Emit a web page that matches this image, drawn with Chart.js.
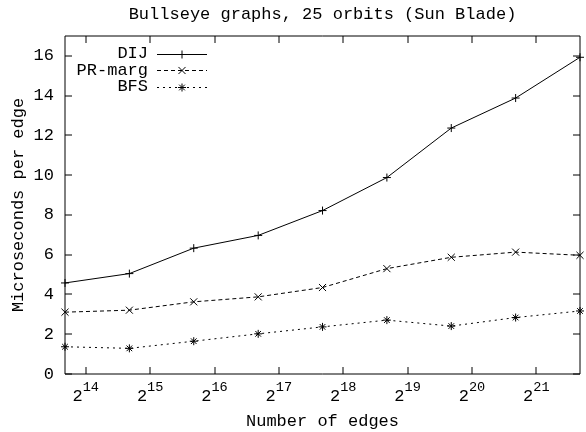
<!DOCTYPE html>
<html>
<head>
<meta charset="utf-8">
<title>Bullseye graphs, 25 orbits (Sun Blade)</title>
<script src="https://cdn.jsdelivr.net/npm/chart.js@4.4.0/dist/chart.umd.min.js"></script>
<style>
  html, body { margin: 0; padding: 0; background: #fff; }
  canvas { display: block; }
</style>
</head>
<body>
<canvas id="chart" width="586" height="432"></canvas>
<script>
// Textos
const chartTitle = 'Bullseye graphs, 25 orbits (Sun Blade)';
const xAxisTitle = 'Number of edges';
const yAxisTitle = 'Microseconds per edge';

// Datos
const edges = [13100, 26200, 52400, 104900, 209700, 419400, 838900, 1677700, 3355400];
const dij = [4.58, 5.05, 6.33, 6.97, 8.22, 9.88, 12.37, 13.88, 15.93];
const prMarg = [3.11, 3.21, 3.63, 3.88, 4.35, 5.30, 5.87, 6.13, 5.97];
const bfs = [1.37, 1.29, 1.65, 2.02, 2.37, 2.71, 2.41, 2.84, 3.17];

// Marcas de los ejes
const xTickExponents = [14, 15, 16, 17, 18, 19, 20, 21];
const yTicks = [0, 2, 4, 6, 8, 10, 12, 14, 16];

const FONT = '"Liberation Mono", "Courier New", monospace';
const TICK_LEN = 7;

// Marco estilo gnuplot, marcas hacia dentro y etiquetas
const gnuplotFrame = {
  id: 'gnuplotFrame',
  beforeDatasetsDraw(chart) {
    const { ctx, chartArea: a, scales } = chart;
    const left = Math.round(a.left);
    const right = Math.round(a.right);
    const top = Math.round(a.top);
    const bottom = Math.round(a.bottom);

    ctx.save();
    ctx.strokeStyle = '#000';
    ctx.lineWidth = 1;
    ctx.beginPath();
    ctx.rect(left, top, right - left, bottom - top);
    xTickExponents.forEach((e) => {
      const x = Math.round(scales.x.getPixelForValue(Math.pow(2, e)));
      ctx.moveTo(x, bottom);
      ctx.lineTo(x, bottom - TICK_LEN);
      ctx.moveTo(x, top);
      ctx.lineTo(x, top + TICK_LEN);
    });
    yTicks.forEach((v) => {
      const y = Math.round(scales.y.getPixelForValue(v));
      ctx.moveTo(left, y);
      ctx.lineTo(left + TICK_LEN, y);
      ctx.moveTo(right, y);
      ctx.lineTo(right - TICK_LEN, y);
    });
    ctx.stroke();
    ctx.restore();
  },
  afterDraw(chart) {
    const { ctx, chartArea: a, scales } = chart;
    const cx = (a.left + a.right) / 2;
    ctx.save();
    ctx.fillStyle = '#000';
    ctx.font = `17px ${FONT}`;

    // Título y títulos de ejes
    ctx.textAlign = 'center';
    ctx.textBaseline = 'middle';
    ctx.fillText(chartTitle, cx, 14);
    ctx.fillText(xAxisTitle, cx, 421);
    ctx.save();
    ctx.translate(18, (a.top + a.bottom) / 2);
    ctx.rotate(-Math.PI / 2);
    ctx.fillText(yAxisTitle, 0, 0);
    ctx.restore();

    // Etiquetas del eje Y
    ctx.textAlign = 'right';
    yTicks.forEach((v) => {
      ctx.fillText(String(v), 54, scales.y.getPixelForValue(v));
    });

    // Etiquetas del eje X: 2 con exponente
    ctx.textAlign = 'left';
    ctx.textBaseline = 'alphabetic';
    xTickExponents.forEach((e) => {
      const x = scales.x.getPixelForValue(Math.pow(2, e));
      ctx.font = `17px ${FONT}`;
      const wBase = ctx.measureText('2').width;
      ctx.font = `13.6px ${FONT}`;
      const wExp = ctx.measureText(String(e)).width;
      const x0 = x - (wBase + wExp) / 2;
      ctx.font = `17px ${FONT}`;
      ctx.fillText('2', x0, 401);
      ctx.font = `13.6px ${FONT}`;
      ctx.fillText(String(e), x0 + wBase, 391);
    });

    // Leyenda
    const rows = [53.5, 70, 86.5];
    ctx.font = `17px ${FONT}`;
    ctx.textAlign = 'right';
    ctx.textBaseline = 'middle';
    chart.data.datasets.forEach((ds, i) => {
      const y = rows[i];
      ctx.fillText(ds.label, 148, y);
      ctx.save();
      ctx.strokeStyle = ds.borderColor;
      ctx.lineWidth = ds.borderWidth;
      ctx.setLineDash(ds.borderDash || []);
      ctx.beginPath();
      ctx.moveTo(157, Math.round(y) + 0.5);
      ctx.lineTo(207, Math.round(y) + 0.5);
      ctx.stroke();
      ctx.setLineDash([]);
      ctx.strokeStyle = ds.pointBorderColor;
      Chart.helpers.drawPoint(ctx, {
        pointStyle: ds.pointStyle,
        radius: ds.pointRadius,
        rotation: 0,
        borderWidth: ds.pointBorderWidth,
      }, 182, Math.round(y) + 0.5);
      ctx.restore();
    });
    ctx.restore();
  },
};

function makeDataset(label, values, dash, style, radius) {
  return {
    label: label,
    data: edges.map((e, i) => ({ x: e, y: values[i] })),
    borderColor: '#000',
    borderWidth: 1,
    borderDash: dash,
    pointStyle: style,
    pointRadius: radius,
    pointBorderColor: '#000',
    pointBackgroundColor: '#000',
    pointBorderWidth: 1,
    tension: 0,
    fill: false,
    clip: false,
  };
}

new Chart(document.getElementById('chart'), {
  type: 'line',
  data: {
    datasets: [
      makeDataset('DIJ', dij, [], 'cross', 4),
      makeDataset('PR-marg', prMarg, [4, 3], 'crossRot', 5),
      makeDataset('BFS', bfs, [2, 4], 'star', 4),
    ],
  },
  options: {
    responsive: false,
    animation: false,
    devicePixelRatio: 1,
    layout: { padding: { left: 65, right: 1, top: 36, bottom: 58 } },
    scales: {
      x: { type: 'logarithmic', min: 13100, max: 3355400, display: false },
      y: { type: 'linear', min: 0, max: 17, display: false },
    },
    plugins: {
      legend: { display: false },
      title: { display: false },
      tooltip: { enabled: false },
    },
  },
  plugins: [gnuplotFrame],
});
</script>
</body>
</html>
